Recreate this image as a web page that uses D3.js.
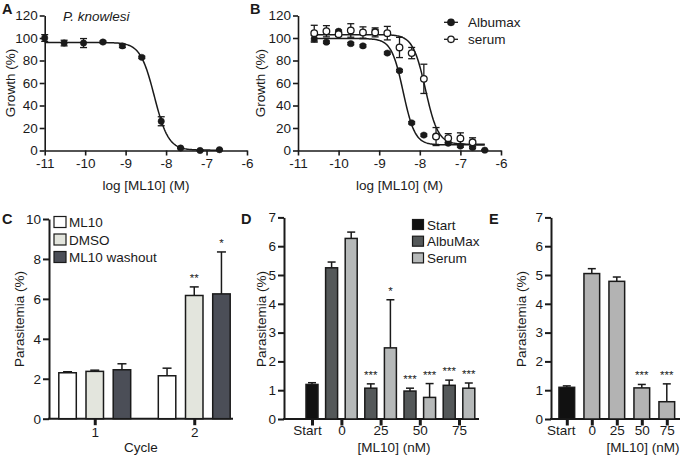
<!DOCTYPE html>
<html><head><meta charset="utf-8">
<script src="https://cdn.jsdelivr.net/npm/d3@7"></script>
<style>
body{margin:0;background:#fff}
svg{display:block;font-family:"Liberation Sans",Arial,Helvetica,sans-serif}
</style></head><body>
<svg id="fig" width="684" height="459"></svg>
<script>
// ---------- DATA ----------
// Panel A (P. knowlesi)
const aLogConc = [-11.0, -10.52, -10.04, -9.56, -9.08, -8.6, -8.12, -7.64, -7.16, -6.68];
const aGrowth  = [100, 95.5, 95.5, 96.4, 93, 82.8, 26, 2.2, 0, 0.7];
const aErr     = [3, 2.5, 4, 1, 1.5, 1, 4, 0.5, 0.5, 0.5];
const aFit     = [96, 0.3, -8.29, 2.5];            // top, bottom, logIC50, hill
// Panel B
const bLogConc   = [-10.6, -10.3, -10.0, -9.7, -9.4, -9.1, -8.8, -8.5, -8.2, -7.9, -7.6, -7.3, -7.0, -6.7, -6.4];
const bAlbumax   = [99.3, 96.3, 106, 95, 93, 106, 86.6, 71, 24.6, 13.7, 12.5, 6.5, 3.9, 2.7, 0.3];
const bAlbumaxErr= [3, 1, 1, 1, 1, 1.5, 1, 1, 1, 1, 1, 1, 1, 1, 0.5];
const bSerum     = [104.3, 106, 103.4, 106.7, 104.9, 105, 104.3, 91.6, 86.6, 63.7, 12.4, 11, 10.7, 7.3];
const bSerumErr  = [7, 5, 2, 6, 5, 4, 6, 9, 5, 13, 8, 4, 5, 4];
const bFitAlbumax= [99.5, 5, -8.41, 3];
const bFitSerum  = [103, 5.5, -7.86, 2.8];
const bSeries    = ["Albumax", "serum"];
const logTicks   = [-11, -10, -9, -8, -7, -6];
const growthTicks= [0, 20, 40, 60, 80, 100, 120];
// Panel C
const cCycles    = ["1", "2"];
const cSeries    = ["ML10", "DMSO", "ML10 washout"];
const cML10      = [2.3, 2.15];
const cDMSO      = [2.37, 6.17];
const cWashout   = [2.45, 6.25];
const cML10Err   = [0.05, 0.38];
const cDMSOErr   = [0.06, 0.43];
const cWashoutErr= [0.3, 2.1];
const cML10Stars = ["", ""];
const cDMSOStars = ["", "**"];
const cWashoutStars = ["", "*"];
const cTicks     = [0, 2, 4, 6, 8, 10];
// Panel D
const dGroups    = ["Start", "0", "25", "50", "75"];
const dSeries    = ["Start", "AlbuMax", "Serum"];
const dStart     = [1.2];
const dStartErr  = [0.06];
const dAlbuMax   = [5.25, 1.07, 0.97, 1.17];   // 0, 25, 50, 75 nM
const dAlbuMaxErr= [0.2, 0.15, 0.1, 0.18];
const dSerum     = [6.27, 2.47, 0.75, 1.07];
const dSerumErr  = [0.22, 1.67, 0.48, 0.18];
const dAlbuMaxStars = ["", "***", "***", "***"];
const dSerumStars   = ["", "*", "***", "***"];
// Panel E
const eGroups    = ["Start", "0", "25", "50", "75"];
const eValues    = [1.1, 5.05, 4.78, 1.08, 0.6];
const eErr       = [0.05, 0.17, 0.15, 0.12, 0.62];
const eStars     = ["", "", "", "***", "***"];
const pTicks     = [0, 1, 2, 3, 4, 5, 6, 7];

// ---------- DRAWING ----------
const svg = d3.select("#fig");
const INK = "#1a1a1a";
const FS = 13.5;

function text(x, y, s, opts = {}) {
  const t = svg.append("text").attr("x", x).attr("y", y).text(s)
    .attr("font-size", opts.size || FS).attr("fill", INK)
    .attr("text-anchor", opts.anchor || "start");
  if (opts.weight) t.attr("font-weight", opts.weight);
  if (opts.style) t.attr("font-style", opts.style);
  if (opts.rotate) t.attr("transform", `rotate(-90,${x},${y})`);
  return t;
}
function styleAxis(g, w) {
  g.selectAll("path.domain").attr("stroke", INK).attr("stroke-width", w);
  g.selectAll(".tick line").attr("stroke", INK).attr("stroke-width", w);
  g.selectAll(".tick text").attr("font-size", FS).attr("fill", INK)
    .attr("font-family", '"Liberation Sans",Arial,Helvetica,sans-serif');
}
function logistic(p, x) { return p[1] + (p[0] - p[1]) / (1 + Math.pow(10, (x - p[2]) * p[3])); }

// ----- dose response panels -----
function dosePanel(x0, x1, y0, y1) {
  const x = d3.scaleLinear().domain([-11, -6]).range([x0, x1]);
  const y = d3.scaleLinear().domain([0, 120]).range([y0, y1]);
  const gx = svg.append("g").attr("transform", `translate(0,${y0})`)
    .call(d3.axisBottom(x).tickValues(logTicks).tickFormat(d => String(d)).tickSize(5).tickSizeOuter(0).tickPadding(3));
  styleAxis(gx, 1.6);
  const gy = svg.append("g").attr("transform", `translate(${x0},0)`)
    .call(d3.axisLeft(y).tickValues(growthTicks).tickFormat(d => String(d)).tickSize(5).tickSizeOuter(0).tickPadding(2));
  styleAxis(gy, 1.6);
  return {x, y};
}
function curve(sc, params, from, to) {
  const pts = d3.range(from, to + 1e-9, (to - from) / 200).map(v => [v, logistic(params, v)]);
  svg.append("path").datum(pts)
    .attr("d", d3.line().x(d => sc.x(d[0])).y(d => sc.y(d[1])))
    .attr("fill", "none").attr("stroke", INK).attr("stroke-width", 1.5);
}
function points(sc, xs, ys, es, open) {
  const data = ys.map((v, i) => ({x: xs[i], y: v, e: es[i]}));
  const g = svg.append("g");
  data.forEach(d => {
    const cx = sc.x(d.x), t = sc.y(d.y + d.e), b = sc.y(d.y - d.e);
    g.append("line").attr("x1", cx).attr("x2", cx).attr("y1", t).attr("y2", b).attr("stroke", INK).attr("stroke-width", 1.3);
    g.append("line").attr("x1", cx - 3.5).attr("x2", cx + 3.5).attr("y1", t).attr("y2", t).attr("stroke", INK).attr("stroke-width", 1.3);
    g.append("line").attr("x1", cx - 3.5).attr("x2", cx + 3.5).attr("y1", b).attr("y2", b).attr("stroke", INK).attr("stroke-width", 1.3);
  });
  g.selectAll("circle").data(data).join("circle")
    .attr("cx", d => sc.x(d.x)).attr("cy", d => sc.y(d.y))
    .attr("r", open ? 3.3 : 3.2)
    .attr("fill", open ? "#fff" : INK).attr("stroke", INK).attr("stroke-width", open ? 1.3 : 0.5);
}

// Panel A
const A = dosePanel(44.7, 247, 150.5, 15.5);
curve(A, aFit, aLogConc[0], aLogConc[aLogConc.length - 1]);
points(A, aLogConc, aGrowth, aErr, false);
text(2, 14, "A", {weight: "bold", size: 14.5});
text(63, 20.5, "P. knowlesi", {style: "italic"});
text(14.5, 83, "Growth (%)", {anchor: "middle", rotate: true});
text(146, 190, "log [ML10] (M)", {anchor: "middle"});

// Panel B
const B = dosePanel(298, 501, 150.5, 15.5);
curve(B, bFitAlbumax, -10.62, -6.4);
curve(B, bFitSerum, -10.62, -6.4);
points(B, bLogConc, bAlbumax, bAlbumaxErr, false);
points(B, bLogConc.slice(0, bSerum.length), bSerum, bSerumErr, true);
text(250, 14, "B", {weight: "bold", size: 14.5});
text(265, 83, "Growth (%)", {anchor: "middle", rotate: true});
text(399.5, 190, "log [ML10] (M)", {anchor: "middle"});
bSeries.forEach((s, i) => {
  const ly = 22.3 + i * 17;
  svg.append("line").attr("x1", 444).attr("x2", 458).attr("y1", ly).attr("y2", ly).attr("stroke", INK).attr("stroke-width", 1.3);
  svg.append("circle").attr("cx", 451).attr("cy", ly).attr("r", 3.2)
    .attr("fill", i === 0 ? INK : "#fff").attr("stroke", INK).attr("stroke-width", 1.3);
  text(468, ly + 4.8, s);
});

// ----- bar panels helpers -----
function barYAxis(xAxis, y, ticks) {
  const g = svg.append("g").attr("transform", `translate(${xAxis},0)`)
    .call(d3.axisLeft(y).tickValues(ticks).tickFormat(d => String(d)).tickSize(6).tickSizeOuter(0).tickPadding(2));
  styleAxis(g, 2);
}
function barXAxis(x0, x1, y0, labels, positions, pad) {
  svg.append("line").attr("x1", x0 - 1).attr("x2", x1).attr("y1", y0).attr("y2", y0).attr("stroke", INK).attr("stroke-width", 2);
  const tk = d3.scaleOrdinal().domain(labels).range(positions);
  const g = svg.append("g").attr("transform", `translate(0,${y0})`)
    .call(d3.axisBottom(tk).tickSize(6.5).tickPadding(pad));
  g.select("path.domain").remove();
  styleAxis(g, 3);
  return g;
}
function bars(list, x, y, capW, twoSided) {
  const g = svg.append("g");
  list.forEach(d => {
    const bx = x(d.key), bw = x.bandwidth(), cx = bx + bw / 2;
    const top = y(d.v + d.e), bot = twoSided ? y(d.v - d.e) : y(d.v);
    g.append("line").attr("x1", cx).attr("x2", cx).attr("y1", top).attr("y2", bot).attr("stroke", INK).attr("stroke-width", 1.5);
    g.append("line").attr("x1", cx - capW / 2).attr("x2", cx + capW / 2).attr("y1", top).attr("y2", top).attr("stroke", INK).attr("stroke-width", 1.5);
    if (twoSided) g.append("line").attr("x1", cx - capW / 2).attr("x2", cx + capW / 2).attr("y1", bot).attr("y2", bot).attr("stroke", INK).attr("stroke-width", 1.5);
  });
  g.selectAll("rect").data(list).join("rect")
    .attr("x", d => x(d.key)).attr("width", x.bandwidth())
    .attr("y", d => y(d.v)).attr("height", d => y(0) - y(d.v))
    .attr("fill", d => d.fill).attr("stroke", INK).attr("stroke-width", 1.5);
  list.filter(d => d.star).forEach(d => {
    text(x(d.key) + x.bandwidth() / 2, y(d.v + d.e) - 5, d.star, {anchor: "middle", size: 11.5});
  });
}

// Panel C
{
  const y = d3.scaleLinear().domain([0, 10]).range([418.7, 219]);
  const outer = d3.scaleBand().domain(cCycles).range([45, 244]);
  const inner = d3.scaleBand().domain(cSeries).range([8.95, 90.55]).paddingInner(0.357).paddingOuter(0.1785);
  const fills = ["#ffffff", "#e3e5dd", "#4b4e57"];
  const vals = [cML10, cDMSO, cWashout], errs = [cML10Err, cDMSOErr, cWashoutErr], stars = [cML10Stars, cDMSOStars, cWashoutStars];
  const list = [];
  cCycles.forEach((c, ci) => cSeries.forEach((s, si) => list.push({key: c + "|" + s, v: vals[si][ci], e: errs[si][ci], fill: fills[si], star: stars[si][ci]})));
  const posX = k => { const [c, s] = k.split("|"); return outer(c) + inner(s); };
  const xs = Object.assign(k => posX(k), {bandwidth: () => inner.bandwidth()});
  barYAxis(49, y, cTicks);
  barXAxis(49, 233, 418.7, cCycles, cCycles.map(c => outer(c) + outer.bandwidth() / 2), 2);
  bars(list, xs, y, 9, true);
  text(2, 224, "C", {weight: "bold", size: 14.5});
  text(24, 319, "Parasitemia (%)", {anchor: "middle", rotate: true});
  text(141, 452, "Cycle", {anchor: "middle"});
  cSeries.forEach((s, i) => {
    const ly = 222 + i * 17.5;
    svg.append("rect").attr("x", 54).attr("y", ly - 5.5).attr("width", 12).attr("height", 11)
      .attr("fill", fills[i]).attr("stroke", INK).attr("stroke-width", 1.2);
    text(69, ly + 5, s);
  });
}

// Panel D
{
  const y = d3.scaleLinear().domain([0, 7]).range([419, 217.4]);
  const fills = {Start: "#111111", AlbuMax: "#545859", Serum: "#b6b9b9"};
  const list = [{key: "Start|Start", v: dStart[0], e: dStartErr[0], fill: fills.Start, star: ""}];
  dGroups.slice(1).forEach((g, i) => {
    list.push({key: g + "|AlbuMax", v: dAlbuMax[i], e: dAlbuMaxErr[i], fill: fills.AlbuMax, star: dAlbuMaxStars[i]});
    list.push({key: g + "|Serum", v: dSerum[i], e: dSerumErr[i], fill: fills.Serum, star: dSerumStars[i]});
  });
  const x = d3.scaleBand().domain(list.map(d => d.key)).range([302.2, 478.6]).paddingInner(0.388).paddingOuter(0.194);
  const tickPos = dGroups.map(g => {
    const ks = list.filter(d => d.key.startsWith(g + "|")).map(d => x(d.key) + x.bandwidth() / 2);
    return d3.mean(ks);
  });
  barYAxis(284, y, pTicks);
  const gx = barXAxis(284, 479, 419, dGroups, tickPos, 0);
  gx.selectAll(".tick text").filter(d => d === "Start").attr("dx", -5);
  bars(list, x, y, 8, false);
  text(241, 224, "D", {weight: "bold", size: 14.5});
  text(266, 319, "Parasitemia (%)", {anchor: "middle", rotate: true});
  text(394, 452, "[ML10] (nM)", {anchor: "middle"});
  dSeries.forEach((s, i) => {
    const ly = 224.5 + i * 16.7;
    svg.append("rect").attr("x", 412.5).attr("y", ly - 5).attr("width", 11).attr("height", 10)
      .attr("fill", fills[s]).attr("stroke", INK).attr("stroke-width", 1.2);
    text(427, ly + 5, s);
  });
}

// Panel E
{
  const y = d3.scaleLinear().domain([0, 7]).range([419, 217.4]);
  const list = eGroups.map((g, i) => ({key: g, v: eValues[i], e: eErr[i], fill: i === 0 ? "#111111" : "#b3b3b3", star: eStars[i]}));
  const x = d3.scaleBand().domain(eGroups).range([554.3, 679.3]).paddingInner(0.372).paddingOuter(0.186);
  barYAxis(551, y, pTicks);
  const gx = barXAxis(551, 680, 419, eGroups, eGroups.map(g => x(g) + x.bandwidth() / 2), 0);
  gx.selectAll(".tick text").filter(d => d === "Start").attr("dx", -6);
  bars(list, x, y, 8, false);
  text(489, 224, "E", {weight: "bold", size: 14.5});
  text(526, 319, "Parasitemia (%)", {anchor: "middle", rotate: true});
  text(643, 452, "[ML10] (nM)", {anchor: "middle"});
}
</script>
</body></html>
